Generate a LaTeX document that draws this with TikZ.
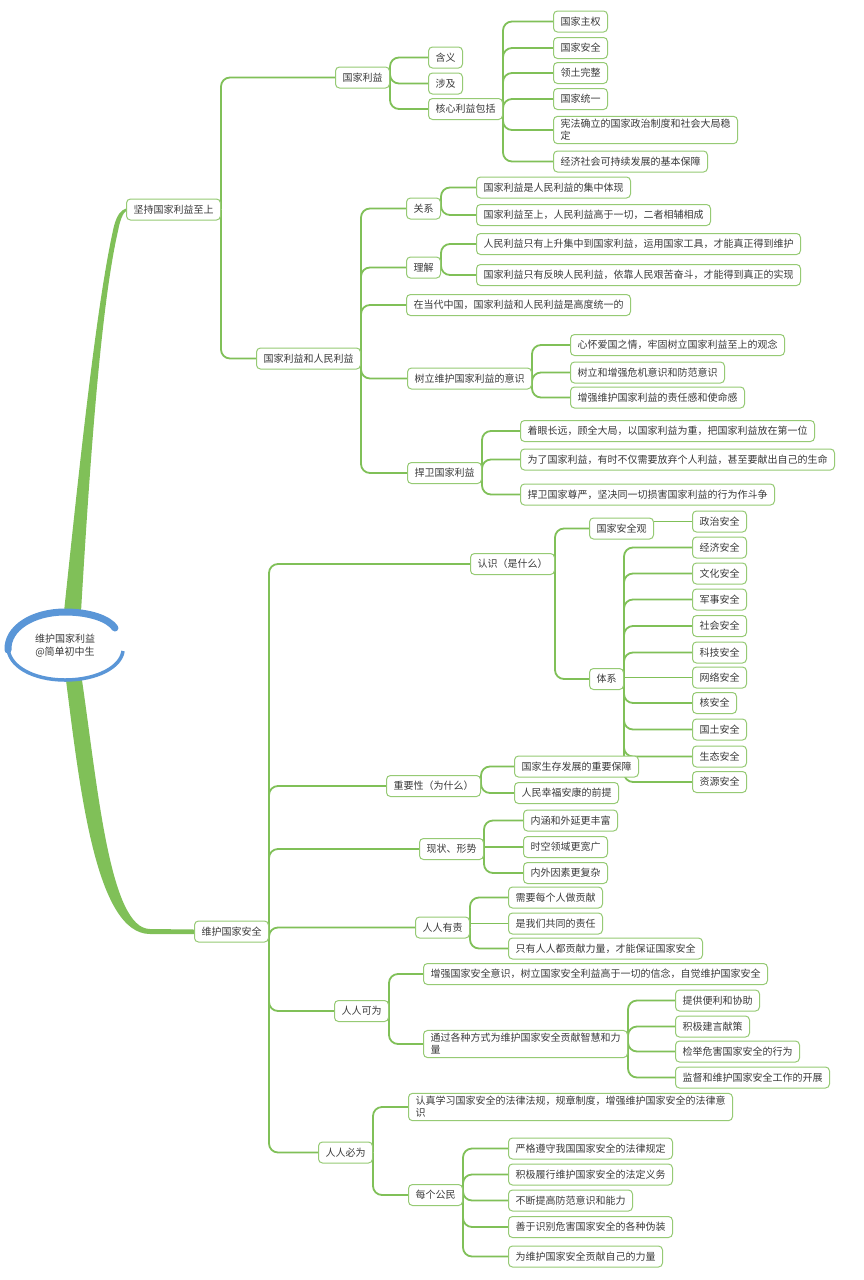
\documentclass[tikz,border=0pt]{standalone}
\usepackage{fontspec}
\newfontfamily\cjk{Noto Sans CJK SC}
\usepackage{xcolor}
\usepackage{tikz}
\usetikzlibrary{shapes.geometric,backgrounds}
\definecolor{lnk}{RGB}{128,192,88}
\definecolor{bd}{RGB}{150,202,116}
\definecolor{txt}{RGB}{58,58,58}
\definecolor{ring}{RGB}{90,150,215}

\begin{document}
\begin{tikzpicture}[x=1pt,y=-1pt,
	box/.style={draw=bd, fill=white, line width=1pt, rounded corners=4pt, anchor=west, inner xsep=7pt, inner ysep=3pt, minimum height=21pt, text=txt, font={\cjk\fontsize{10pt}{12pt}\selectfont}, align=left},
	link/.style={draw=lnk, line width=1.8pt, rounded corners=9pt},
	flat/.style={draw=lnk, line width=1.8pt},
	root/.style={ellipse, fill=white, minimum width=114pt, minimum height=68pt, inner sep=0pt, text=txt, font={\cjk\fontsize{10pt}{13pt}\selectfont}, align=center}]
	\useasboundingbox (0,0) rectangle (863,1280);

	% centre
	\node[root] (root) at (65,646) {维护国家利益\\@简单初中生};

	% upper half
	\node[box] (jc) at (126,209.5) {坚持国家利益至上};
	\node[box] (gjly) at (335,77.5) {国家利益};
	\node[box] (hy) at (428,57.5) {含义};
	\node[box] (sj) at (428,83.5) {涉及};
	\node[box] (hx) at (428,109) {核心利益包括};
	\node[box] (zq) at (553,21.5) {国家主权};
	\node[box] (aq) at (553,48) {国家安全};
	\node[box] (lt) at (553,73) {领土完整};
	\node[box] (ty) at (553,99) {国家统一};
	\node[box] (xf) at (553,130) {宪法确立的国家政治制度和社会大局稳\\定};
	\node[box] (jj) at (553,161.5) {经济社会可持续发展的基本保障};
	\node[box] (rm) at (256,358.5) {国家利益和人民利益};
	\node[box] (gx) at (406,208.5) {关系};
	\node[box] (gxa) at (476,187.5) {国家利益是人民利益的集中体现};
	\node[box] (gxb) at (476,215) {国家利益至上，人民利益高于一切，二者相辅相成};
	\node[box] (lj) at (406,267.5) {理解};
	\node[box] (lja) at (476,244) {人民利益只有上升集中到国家利益，运用国家工具，才能真正得到维护};
	\node[box] (ljb) at (476,275) {国家利益只有反映人民利益，依靠人民艰苦奋斗，才能得到真正的实现};
	\node[box] (dd) at (406,305) {在当代中国，国家利益和人民利益是高度统一的};
	\node[box] (sl) at (407,378.5) {树立维护国家利益的意识};
	\node[box] (sla) at (570,345) {心怀爱国之情，牢固树立国家利益至上的观念};
	\node[box] (slb) at (570,372.5) {树立和增强危机意识和防范意识};
	\node[box] (slc) at (570,397.5) {增强维护国家利益的责任感和使命感};
	\node[box] (hw) at (407,473) {捍卫国家利益};
	\node[box] (hwa) at (520,431) {着眼长远，顾全大局，以国家利益为重，把国家利益放在第一位};
	\node[box] (hwb) at (520,459.5) {为了国家利益，有时不仅需要放弃个人利益，甚至要献出自己的生命};
	\node[box] (hwc) at (520,494.5) {捍卫国家尊严，坚决同一切损害国家利益的行为作斗争};

	% lower half
	\node[box] (wh) at (194,931.5) {维护国家安全};
	\node[box] (rs) at (470,564) {认识（是什么）};
	\node[box] (aqg) at (589,528.5) {国家安全观};
	\node[box] (zz) at (692,521.5) {政治安全};
	\node[box] (tx) at (589,679) {体系};
	\node[box] (txa) at (692,547.5) {经济安全};
	\node[box] (txb) at (692,573.5) {文化安全};
	\node[box] (txc) at (692,599.5) {军事安全};
	\node[box] (txd) at (692,626) {社会安全};
	\node[box] (txe) at (692,652.5) {科技安全};
	\node[box] (txf) at (692,677.5) {网络安全};
	\node[box] (txg) at (692,703) {核安全};
	\node[box] (txh) at (692,729.5) {国土安全};
	\node[box] (txi) at (692,756.5) {生态安全};
	\node[box] (txj) at (692,782) {资源安全};
	\node[box] (zy) at (386,786) {重要性（为什么）};
	\node[box] (zya) at (514,766.5) {国家生存发展的重要保障};
	\node[box] (zyb) at (514,793) {人民幸福安康的前提};
	\node[box] (xz) at (419,849) {现状、形势};
	\node[box] (xza) at (523,820.5) {内涵和外延更丰富};
	\node[box] (xzb) at (523,847) {时空领域更宽广};
	\node[box] (xzc) at (523,873) {内外因素更复杂};
	\node[box] (yz) at (415,927.5) {人人有责};
	\node[box] (yza) at (508,897.5) {需要每个人做贡献};
	\node[box] (yzb) at (508,923.5) {是我们共同的责任};
	\node[box] (yzc) at (508,948.5) {只有人人都贡献力量，才能保证国家安全};
	\node[box] (kw) at (334,1011) {人人可为};
	\node[box] (kwa) at (423,974) {增强国家安全意识，树立国家安全利益高于一切的信念，自觉维护国家安全};
	\node[box] (kwb) at (423,1044) {通过各种方式为维护国家安全贡献智慧和力\\量};
	\node[box] (kba) at (675,1000.5) {提供便利和协助};
	\node[box] (kbb) at (675,1026.5) {积极建言献策};
	\node[box] (kbc) at (675,1051.5) {检举危害国家安全的行为};
	\node[box] (kbd) at (675,1077.5) {监督和维护国家安全工作的开展};
	\node[box] (bw) at (318,1152.5) {人人必为};
	\node[box] (bwa) at (408,1107) {认真学习国家安全的法律法规，规章制度，增强维护国家安全的法律意\\识};
	\node[box] (bwb) at (408,1195) {每个公民};
	\node[box] (gma) at (508,1148.5) {严格遵守我国国家安全的法律规定};
	\node[box] (gmb) at (508,1174.5) {积极履行维护国家安全的法定义务};
	\node[box] (gmc) at (508,1200.5) {不断提高防范意识和能力};
	\node[box] (gmd) at (508,1227) {善于识别危害国家安全的各种伪装};
	\node[box] (gme) at (508,1256.5) {为维护国家安全贡献自己的力量};

	% blue ring round the centre
	\draw[ring, line width=3.5pt] (8,647) .. controls (8,666) and (33,680) .. (65,680) .. controls (97,680) and (121,667) .. (123,651);
	\draw[ring, line width=7pt, line cap=round] (8,650) .. controls (7,628) and (33,612) .. (65,612) .. controls (90,612) and (109,619) .. (115,628);

	\begin{pgfonlayer}{background}
	\fill[white] (0,0) rectangle (863,1280);
	% thick branches from the centre
	\fill[lnk] ([xshift=-1pt]root.north) .. controls (80,460) and (97,300) .. (114,226) .. controls (117,215) and (121,210) .. ([yshift=1pt]jc.west)
		-- ([yshift=-1.5pt]jc.west) .. controls (123,213) and (120,220) .. (118,231) .. controls (101,305) and (90,460) .. ([xshift=16pt]root.north) -- cycle;
	\fill[lnk] ([xshift=1pt]root.south) .. controls (80,790) and (96,934) .. (150,934) -- ([yshift=-2.5pt]wh.west)
		-- ([yshift=2pt]wh.west) -- (150,929) .. controls (110,929) and (98,790) .. ([xshift=17pt]root.south) -- cycle;

	\draw[link] (jc.east) |- (gjly.west);
	\draw[link] (jc.east) |- (rm.west);
	\draw[link] (gjly.east) |- (hy.west);
	\draw[link] (gjly.east) |- (sj.west);
	\draw[link] (gjly.east) |- (hx.west);
	\draw[link] (hx.east) |- (zq.west);
	\draw[link] (hx.east) |- (aq.west);
	\draw[link] (hx.east) |- (lt.west);
	\draw[link] (hx.east) |- (ty.west);
	\draw[link] (hx.east) |- (xf.west);
	\draw[link] (hx.east) |- (jj.west);
	\draw[link] (rm.east) |- (gx.west);
	\draw[link] (rm.east) |- (lj.west);
	\draw[link] (rm.east) |- (dd.west);
	\draw[link] (rm.east) |- (sl.west);
	\draw[link] (rm.east) |- (hw.west);
	\draw[link] (gx.east) |- (gxa.west);
	\draw[link] (gx.east) |- (gxb.west);
	\draw[link] (lj.east) |- (lja.west);
	\draw[link] (lj.east) |- (ljb.west);
	\draw[link] (sl.east) |- (sla.west);
	\draw[link] (sl.east) |- (slb.west);
	\draw[link] (sl.east) |- (slc.west);
	\draw[link] (hw.east) |- (hwa.west);
	\draw[link] (hw.east) |- (hwb.west);
	\draw[link] (hw.east) |- (hwc.west);

	\draw[link] (wh.east) |- (rs.west);
	\draw[link] (wh.east) |- (zy.west);
	\draw[link] (wh.east) |- (xz.west);
	\draw[link] (wh.east) |- (yz.west);
	\draw[link] (wh.east) |- (kw.west);
	\draw[link] (wh.east) |- (bw.west);
	\draw[link] (rs.east) |- (aqg.west);
	\draw[link] (rs.east) |- (tx.west);
	\draw[flat] (zz.west -| aqg.east) -- (zz.west);
	\draw[link] (tx.east) |- (txa.west);
	\draw[link] (tx.east) |- (txb.west);
	\draw[link] (tx.east) |- (txc.west);
	\draw[link] (tx.east) |- (txd.west);
	\draw[link] (tx.east) |- (txe.west);
	\draw[flat] (txf.west -| tx.east) -- (txf.west);
	\draw[link] (tx.east) |- (txg.west);
	\draw[link] (tx.east) |- (txh.west);
	\draw[link] (tx.east) |- (txi.west);
	\draw[link] (tx.east) |- (txj.west);
	\draw[link] (zy.east) |- (zya.west);
	\draw[link] (zy.east) |- (zyb.west);
	\draw[link] (xz.east) |- (xza.west);
	\draw[flat] (xzb.west -| xz.east) -- (xzb.west);
	\draw[link] (xz.east) |- (xzc.west);
	\draw[link] (yz.east) |- (yza.west);
	\draw[flat] (yzb.west -| yz.east) -- (yzb.west);
	\draw[link] (yz.east) |- (yzc.west);
	\draw[link] (kw.east) |- (kwa.west);
	\draw[link] (kw.east) |- (kwb.west);
	\draw[link] (kwb.east) |- (kba.west);
	\draw[link] (kwb.east) |- (kbb.west);
	\draw[link] (kwb.east) |- (kbc.west);
	\draw[link] (kwb.east) |- (kbd.west);
	\draw[link] (bw.east) |- (bwa.west);
	\draw[link] (bw.east) |- (bwb.west);
	\draw[link] (bwb.east) |- (gma.west);
	\draw[link] (bwb.east) |- (gmb.west);
	\draw[link] (bwb.east) |- (gmc.west);
	\draw[link] (bwb.east) |- (gmd.west);
	\draw[link] (bwb.east) |- (gme.west);
	\end{pgfonlayer}
\end{tikzpicture}
\end{document}
